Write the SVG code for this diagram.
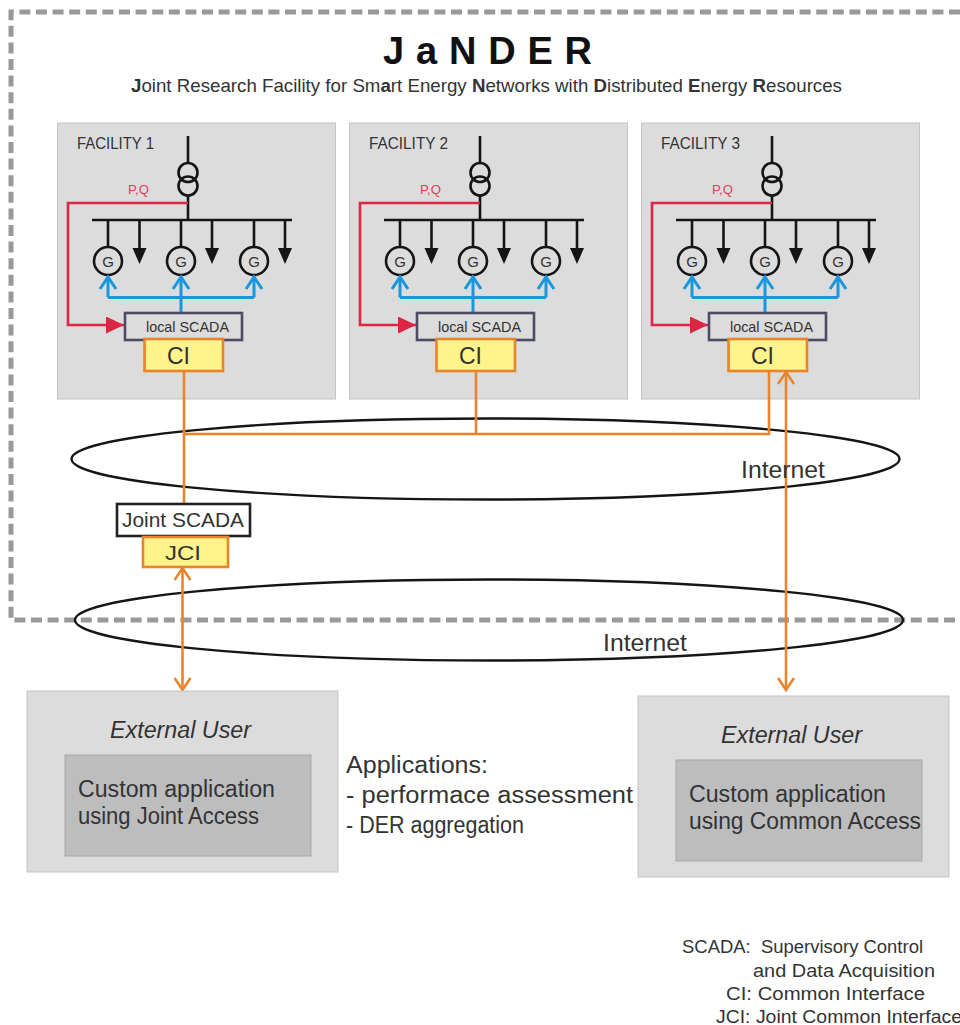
<svg xmlns="http://www.w3.org/2000/svg" xmlns:xlink="http://www.w3.org/1999/xlink" width="960" height="1025" viewBox="0 0 960 1025">
<style>
text{font-family:"Liberation Sans",Arial,sans-serif;fill:#333}
.fac{fill:#dcdcdc;stroke:#c4c4c4;stroke-width:1}
.inner{fill:#bdbdbd;stroke:#a8a8a8;stroke-width:1}
.blk{stroke:#151515;stroke-width:2.6;fill:none}
.gen{fill:none;stroke:#151515;stroke-width:2.6}
.red{stroke:#e02444;stroke-width:2.6;fill:none}
.blue{stroke:#1a96dc;stroke-width:3;fill:none}
.org{stroke:#e8842c;stroke-width:2.6;fill:none}
.yel{fill:#fff38c;stroke:#e8842c;stroke-width:2.6}
.scada{fill:#dcdcdc;stroke:#4c4c64;stroke-width:2.6}
.ell{fill:none;stroke:#151515;stroke-width:2.4}
.dash{fill:none;stroke:#999;stroke-width:5;stroke-dasharray:11 5.6}
.f{font-size:16px}.g{font-size:15px}.s{font-size:14.5px}.c{font-size:24px}
.pq{font-size:13px;fill:#e0405a}
.big{font-size:23px}
.legend{font-size:17.5px}
</style>
<defs>
<marker id="openO" markerUnits="userSpaceOnUse" markerWidth="18" markerHeight="18" refX="14" refY="9" orient="auto-start-reverse"><path d="M2 1 L14 9 L2 17" fill="none" stroke="#e8842c" stroke-width="2.6"/></marker>
<marker id="openB" markerUnits="userSpaceOnUse" markerWidth="18" markerHeight="20" refX="14" refY="10" orient="auto"><path d="M2 2 L14 10 L2 18" fill="none" stroke="#1a96dc" stroke-width="3"/></marker>
<marker id="redH" markerUnits="userSpaceOnUse" markerWidth="20" markerHeight="18" refX="18" refY="8.500" orient="auto"><path d="M0 0 L18 8.500 L0 17 Z" fill="#e02444"/></marker>
<g id="cell">
<path class="blk" d="M188 136V163M188 195V220M92 220H292"/>
<circle class="gen" cx="188" cy="172.500" r="9.500"/>
<circle class="gen" cx="188" cy="186" r="9.500"/>
<path class="blk" d="M108 220V247M181 220V247M254 220V247M139.500 220V250M212 220V250M285 220V250"/>
<path d="M132.500 248H146.500L139.500 264ZM205 248H219L212 264ZM278 248H292L285 264Z" fill="#151515"/>
<circle class="gen" cx="108" cy="261" r="14"/><circle class="gen" cx="181" cy="261" r="14"/><circle class="gen" cx="254" cy="261" r="14"/>
<text class="g" x="108" y="266.500" text-anchor="middle">G</text><text class="g" x="181" y="266.500" text-anchor="middle">G</text><text class="g" x="254" y="266.500" text-anchor="middle">G</text>
<path class="red" d="M188 203H68V325H124" marker-end="url(#redH)"/>
<path class="blue" d="M108 297.500V277" marker-end="url(#openB)"/>
<path class="blue" d="M254 297.500V277" marker-end="url(#openB)"/>
<path class="blue" d="M181 313V277" marker-end="url(#openB)"/>
<path class="blue" d="M108 297.500H254"/>
<rect class="scada" x="125" y="313" width="117" height="27"/>
<rect class="yel" x="144.500" y="339" width="78.500" height="32"/>
<text class="s" x="146" y="332" textLength="83" lengthAdjust="spacingAndGlyphs">local SCADA</text>
<text class="c" x="167" y="364" textLength="23" lengthAdjust="spacingAndGlyphs">CI</text>
<text class="pq" x="128" y="194" textLength="21" lengthAdjust="spacingAndGlyphs">P,Q</text>
</g>
</defs>
<g id="boundary"><path class="dash" d="M960 12H11V620H960"/></g>
<g id="title">
<text x="383" y="64" font-size="38" font-weight="700" style="fill:#111" textLength="209">JaNDER</text>
<text x="131" y="92" font-size="18.500" textLength="711" lengthAdjust="spacingAndGlyphs"><tspan font-weight="700">J</tspan>oint Research Facility for Sm<tspan font-weight="700">a</tspan>rt Energy <tspan font-weight="700">N</tspan>etworks with <tspan font-weight="700">D</tspan>istributed <tspan font-weight="700">E</tspan>nergy <tspan font-weight="700">R</tspan>esources</text>
</g>
<g id="facility1"><rect class="fac" x="57.500" y="123" width="278" height="276"/><text class="f" x="77" y="149" textLength="77" lengthAdjust="spacingAndGlyphs">FACILITY 1</text></g>
<g id="facility2"><rect class="fac" x="349.500" y="123" width="278" height="276"/><text class="f" x="369" y="149" textLength="79" lengthAdjust="spacingAndGlyphs">FACILITY 2</text></g>
<g id="facility3"><rect class="fac" x="641.500" y="123" width="278" height="276"/><text class="f" x="661" y="149" textLength="79" lengthAdjust="spacingAndGlyphs">FACILITY 3</text></g>
<g id="internet1"><ellipse class="ell" cx="485.500" cy="459" rx="414" ry="40.500"/></g>
<g id="internet2"><ellipse class="ell" cx="489" cy="620" rx="414" ry="40.500"/></g>
<g id="connectors">
<path class="org" d="M184 371V504M184 434H769V371M476 434V371"/>
<path class="org" d="M786 372V690" marker-start="url(#openO)" marker-end="url(#openO)"/>
<path class="org" d="M182.500 568V690" marker-start="url(#openO)" marker-end="url(#openO)"/>
</g>
<g id="cells"><use href="#cell"/><use href="#cell" x="292"/><use href="#cell" x="584"/></g>
<g id="internet-labels">
<text class="big" x="741" y="478" textLength="84" lengthAdjust="spacingAndGlyphs">Internet</text>
<text class="big" x="603" y="651" textLength="84" lengthAdjust="spacingAndGlyphs">Internet</text>
</g>
<g id="joint-scada"><rect x="117" y="504" width="133" height="32" fill="#fff" stroke="#222" stroke-width="2.600"/><text x="122" y="527" font-size="20" textLength="122" lengthAdjust="spacingAndGlyphs">Joint SCADA</text></g>
<g id="jci"><rect class="yel" x="143" y="537" width="85" height="30"/><text x="165" y="560" font-size="21" textLength="36" lengthAdjust="spacingAndGlyphs">JCI</text></g>
<g id="user1"><rect class="fac" x="27" y="691" width="311" height="181"/><rect class="inner" x="65" y="755" width="246" height="101"/>
<text x="110" y="738" class="big" font-style="italic" textLength="141" lengthAdjust="spacingAndGlyphs">External User</text>
<text x="78" y="797" class="big" textLength="197" lengthAdjust="spacingAndGlyphs">Custom application</text><text x="78" y="824" class="big" textLength="181" lengthAdjust="spacingAndGlyphs">using Joint Access</text></g>
<g id="user2"><rect class="fac" x="638" y="696" width="311" height="181"/><rect class="inner" x="676" y="760" width="246" height="101"/>
<text x="721" y="743" class="big" font-style="italic" textLength="141" lengthAdjust="spacingAndGlyphs">External User</text>
<text x="689" y="802" class="big" textLength="197" lengthAdjust="spacingAndGlyphs">Custom application</text><text x="689" y="829" class="big" textLength="232" lengthAdjust="spacingAndGlyphs">using Common Access</text></g>
<g id="applications">
<text x="346" y="773" class="big" textLength="142" lengthAdjust="spacingAndGlyphs">Applications:</text>
<text x="346" y="803" class="big" textLength="287" lengthAdjust="spacingAndGlyphs">- performace assessment</text>
<text x="346" y="833" class="big" textLength="178" lengthAdjust="spacingAndGlyphs">- DER aggregation</text>
</g>
<g id="legend">
<text class="legend" x="682" y="953" textLength="241" lengthAdjust="spacingAndGlyphs" xml:space="preserve">SCADA:  Supervisory Control</text>
<text class="legend" x="753" y="977" textLength="182" lengthAdjust="spacingAndGlyphs">and Data Acquisition</text>
<text class="legend" x="726" y="1000" textLength="199" lengthAdjust="spacingAndGlyphs">CI: Common Interface</text>
<text class="legend" x="716" y="1023" textLength="246" lengthAdjust="spacingAndGlyphs">JCI: Joint Common Interface</text>
</g>
</svg>
